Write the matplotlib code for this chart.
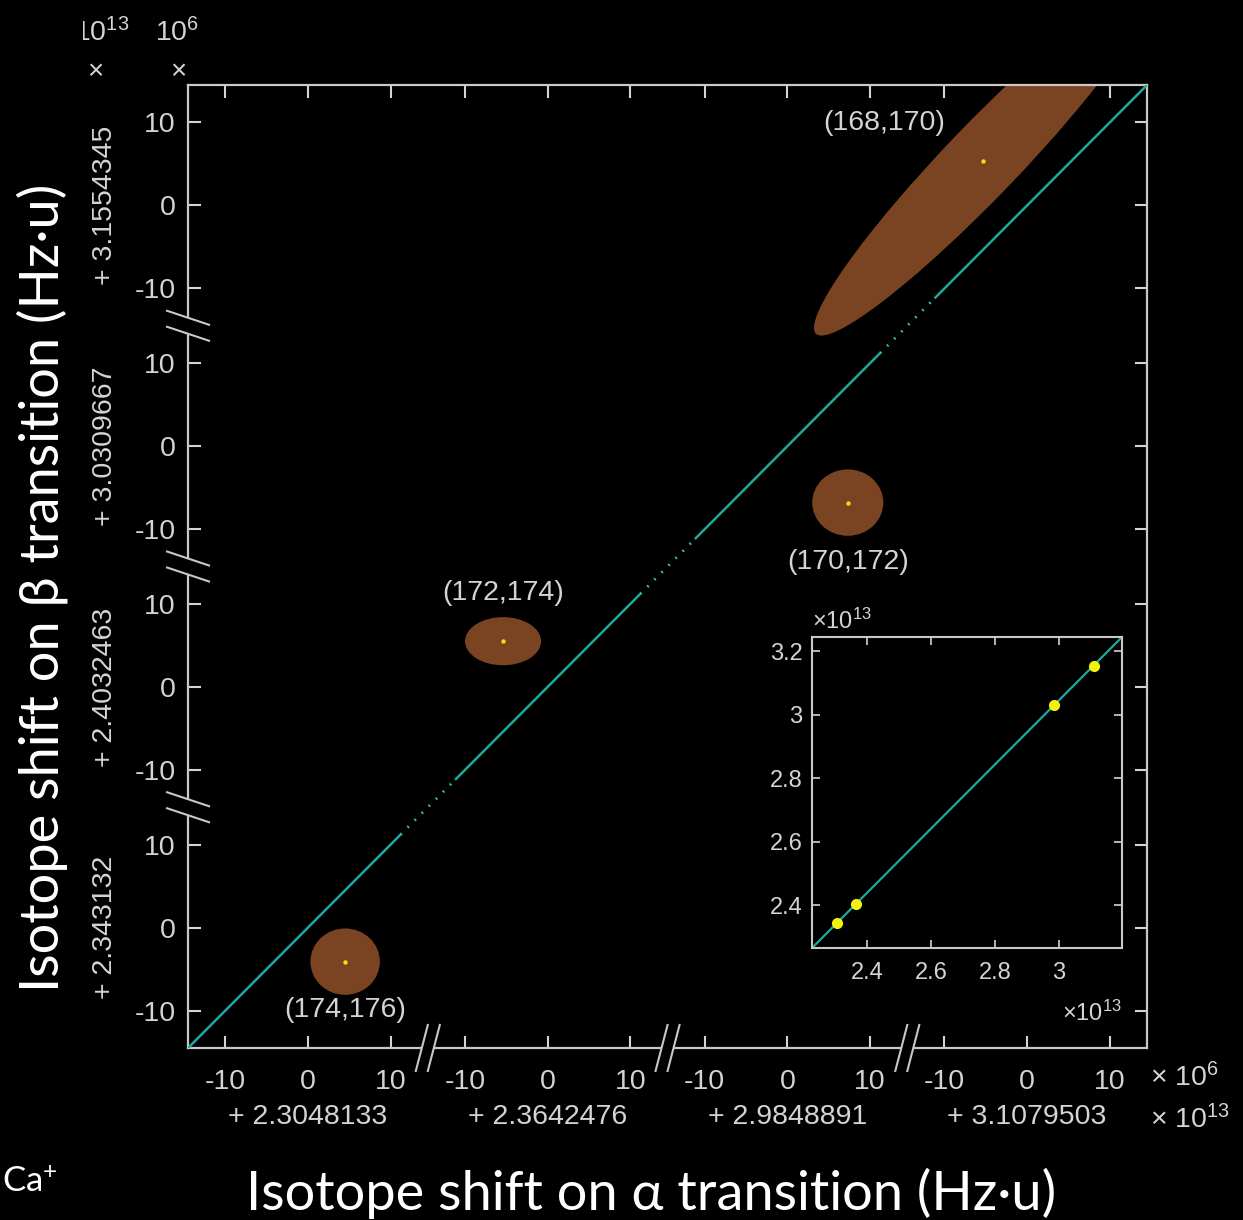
import numpy as np
import matplotlib
matplotlib.use("Agg")
import matplotlib.pyplot as plt
from matplotlib.patches import Ellipse, Polygon, Rectangle

# isotope pairs, one per broken-axis segment (x seg k <-> y seg k)
pairs = ["(174,176)", "(172,174)", "(170,172)", "(168,170)"]
x_offsets = [2.3048133, 2.3642476, 2.9848891, 3.1079503]   # x 1e13 Hz u
y_offsets = [2.343132, 2.4032463, 3.0309667, 3.1554345]    # x 1e13 Hz u
x_shift = [4.5, -5.4, 7.3, -5.4]     # x 1e6 Hz u, relative to offset
y_shift = [-4.1, 5.5, -6.8, 5.4]
err_w = [8.4, 9.2, 8.6, 58.0]        # ellipse full axes, x 1e6 Hz u
err_h = [8.0, 5.8, 8.0, 8.8]
err_angle = [0, 0, 0, 46]
seg_ticks = [-10, 0, 10]
inset_xticks = [2.4, 2.6, 2.8, 3.0]
inset_yticks = [2.4, 2.6, 2.8, 3.0, 3.2]
inset_xlim = [2.228, 3.197]

PITCH = 29.0
HALF = 14.5
FG = "#d4d4d4"
TEAL = "#1fa89c"
BROWN = "#7a4422"
TICKFONT = "Liberation Sans"
LABELFONT = ["Lato", "DejaVu Sans"]

plt.rcParams["font.family"] = [TICKFONT, "DejaVu Sans"]
plt.rcParams["mathtext.default"] = "regular"

fig = plt.figure(figsize=(12.43, 12.20), dpi=100, facecolor="black")

ax = fig.add_axes([0.1513, 0.141, 0.7715, 0.7893])
ax.set_facecolor("black")
lo, hi = -HALF, 3 * PITCH + HALF
ax.set_xlim(lo, hi)
ax.set_ylim(lo, hi)

ticks = [k * PITCH + t for k in range(4) for t in seg_ticks]
labels = [str(t) for k in range(4) for t in seg_ticks]
ax.set_xticks(ticks)
ax.set_xticklabels(labels)
ax.set_yticks(ticks)
ax.set_yticklabels(labels)
ax.tick_params(direction="in", length=9, width=1.5, top=True, right=True,
               colors=FG, labelsize=20.5)
ax.tick_params(axis="x", pad=15)
ax.tick_params(axis="y", pad=9)
for s in ax.spines.values():
    s.set_color("#c8c8c8")
    s.set_linewidth(1.6)

# fit line, broken into solid pieces with dotted jumps across segment borders
gap = 3.3
edges = [lo] + [b for k in range(3) for b in (k * PITCH + HALF - gap, k * PITCH + HALF + gap)] + [hi]
for i in range(len(edges) - 1):
    a, b = edges[i], edges[i + 1]
    if i % 2 == 0:
        ax.plot([a, b], [a, b], color=TEAL, lw=1.8, zorder=3, solid_capstyle="butt")
    else:
        ax.plot([a, b], [a, b], color="#3cc8b8", lw=2.0, zorder=3, linestyle=(0, (0.6, 3.0)))

label_off = [(0, -35), (0, 35), (0, -43), (-71, 27)]
for k in range(4):
    cx = k * PITCH + x_shift[k]
    cy = k * PITCH + y_shift[k]
    ax.add_patch(Ellipse((cx, cy), err_w[k], err_h[k], angle=err_angle[k],
                         facecolor=BROWN, edgecolor="none", zorder=2))
    ax.plot(cx, cy, "o", ms=3.2, color="#ffd21e", mec="none", zorder=4)
    ax.annotate(pairs[k], (cx, cy), xytext=label_off[k], textcoords="offset points",
                ha="center", va="center", fontsize=20.5, color=FG)

# segment offsets
for k in range(4):
    ax.text(k * PITCH, -0.0715, "+ %s" % x_offsets[k], transform=ax.get_xaxis_transform(),
            ha="center", va="center", fontsize=20.5, color=FG)
    ax.text(-0.0865, k * PITCH, "+ %s" % y_offsets[k], transform=ax.get_yaxis_transform(),
            ha="center", va="center", rotation=90, fontsize=20.5, color=FG)

# break marks on the bottom and left spines
W = 0.7715 * 1243
H = 0.7893 * 1220
for k in range(3):
    f = (k * PITCH + HALF - lo) / (hi - lo)
    c1, c2 = f - 6 / W, f + 6 / W
    ax.add_patch(Polygon([(c1 - 1.2 / W, -5 / H), (c2 - 1.2 / W, -5 / H),
                          (c2 + 1.2 / W, 5 / H), (c1 + 1.2 / W, 5 / H)],
                         closed=True, transform=ax.transAxes, clip_on=False,
                         facecolor="black", edgecolor="none", zorder=5))
    for c in (c1, c2):
        ax.plot([c - 6 / W, c + 6 / W], [-23 / H, 23 / H], transform=ax.transAxes,
                clip_on=False, color="#c8c8c8", lw=1.5, zorder=6)
    r1, r2 = f + 8 / H, f - 8 / H
    ax.add_patch(Polygon([(-5 / W, r1 + 1.7 / H), (-5 / W, r2 + 1.7 / H),
                          (5 / W, r2 - 1.7 / H), (5 / W, r1 - 1.7 / H)],
                         closed=True, transform=ax.transAxes, clip_on=False,
                         facecolor="black", edgecolor="none", zorder=5))
    for r in (r1, r2):
        ax.plot([-21 / W, 21 / W], [r + 7 / H, r - 7 / H], transform=ax.transAxes,
                clip_on=False, color="#c8c8c8", lw=1.5, zorder=6)

# multipliers
fig.text(1150 / 1243, 1 - 1078 / 1220, "× 10$^{6}$", ha="left", va="center", fontsize=20.5, color=FG)
fig.text(1150 / 1243, 1 - 1120 / 1220, "× 10$^{13}$", ha="left", va="center", fontsize=20.5, color=FG)
fig.text(95 / 1243, 1 - 72 / 1220, "×", ha="center", va="center", fontsize=20, color=FG)
fig.text(178 / 1243, 1 - 72 / 1220, "×", ha="center", va="center", fontsize=20, color=FG)
fig.text(155 / 1243, 1 - 33 / 1220, "10$^{6}$", ha="left", va="center", fontsize=20.5, color=FG)
fig.text(74 / 1243, 1 - 33 / 1220, "10$^{13}$", ha="left", va="center", fontsize=20.5, color=FG)
# the source figure was cropped just left of this label
fig.add_artist(Rectangle((0, 1 - 60 / 1220), 83 / 1243, 50 / 1220, transform=fig.transFigure,
                         facecolor="black", edgecolor="none", zorder=10))

# inset: full scale
ax2 = fig.add_axes([0.6533, 0.2230, 0.2494, 0.2549])
ax2.set_facecolor("black")
xr = np.array(x_offsets) + np.array(x_shift) * 1e-7
yr = np.array(y_offsets) + np.array(y_shift) * 1e-7
m, b = np.polyfit(xr, yr, 1)
xl = np.array(inset_xlim)
ax2.set_xlim(*xl)
ax2.set_ylim(m * xl[0] + b, m * xl[1] + b)
ax2.plot(xl, m * xl + b, color=TEAL, lw=1.6, zorder=2)
ax2.plot(xr, yr, "o", ms=8, color="#f2f20a", mec="none", zorder=3)
ax2.set_xticks(inset_xticks)
ax2.set_xticklabels(["%g" % v for v in inset_xticks])
ax2.set_yticks(inset_yticks)
ax2.set_yticklabels(["%g" % v for v in inset_yticks])
ax2.tick_params(direction="in", length=6, width=1.2, top=True, right=True,
                colors=FG, labelsize=17)
ax2.tick_params(axis="x", pad=10)
ax2.tick_params(axis="y", pad=7)
for s in ax2.spines.values():
    s.set_color("#c8c8c8")
    s.set_linewidth(1.5)
ax2.text(0.0, 1.01, "×10$^{13}$", transform=ax2.transAxes, ha="left", va="bottom",
         fontsize=17, color=FG)
ax2.text(1.0, -0.21, "×10$^{13}$", transform=ax2.transAxes, ha="right", va="center",
         fontsize=17, color=FG)

# axis titles
fig.text(651 / 1243, 1 - 1193 / 1220, "Isotope shift on α transition (Hz·u)",
         ha="center", va="center", fontsize=39, color="white", family=LABELFONT)
fig.text(42 / 1243, 1 - 588 / 1220, "Isotope shift on β transition (Hz·u)",
         ha="center", va="center", rotation=90, fontsize=39, color="white", family=LABELFONT)
fig.text(2 / 1243, 1 - 1182 / 1220, "Ca$^{+}$", ha="left", va="center",
         fontsize=25, color="white", family=LABELFONT)

fig.savefig("out.png", dpi=100, facecolor="black")
